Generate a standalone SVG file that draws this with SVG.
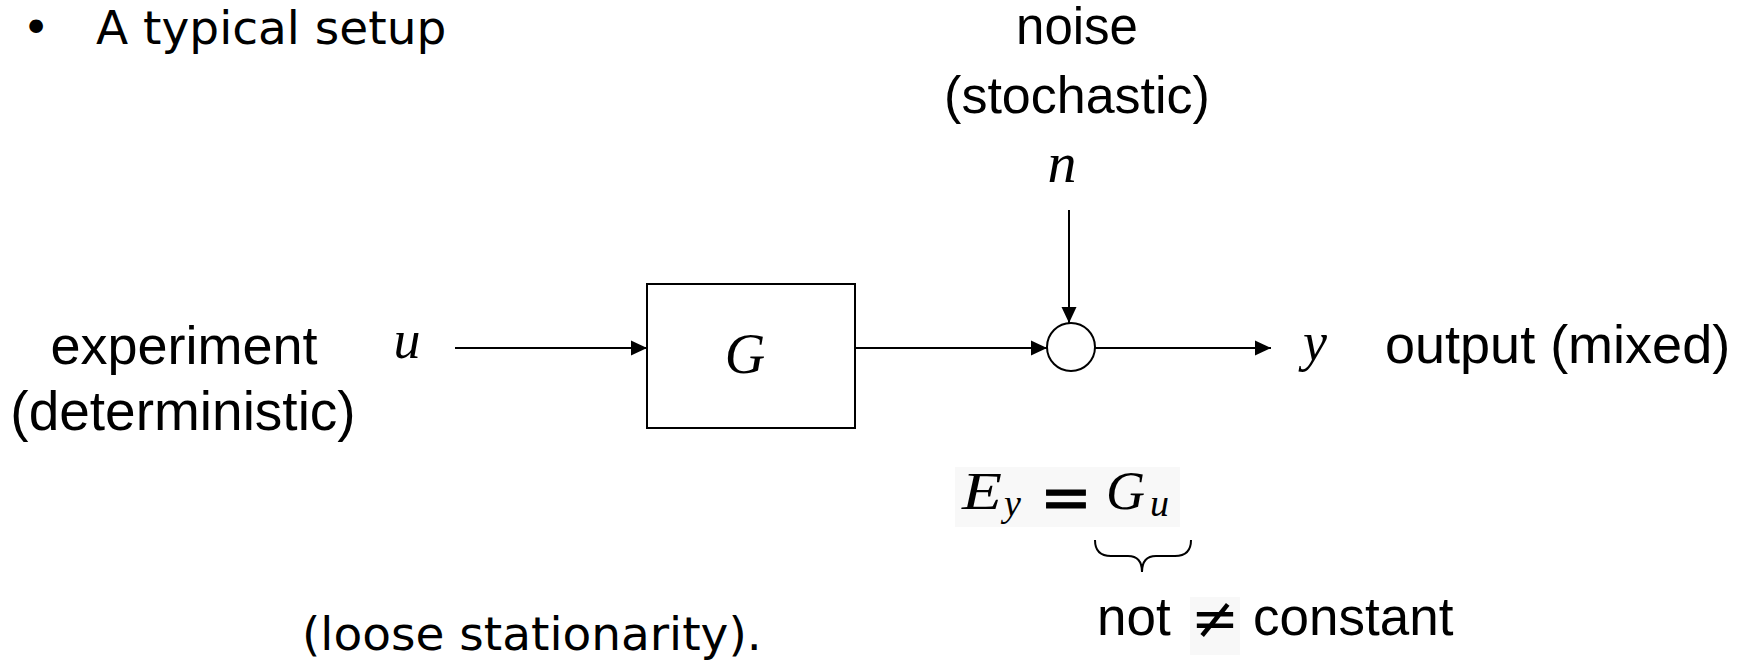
<svg xmlns="http://www.w3.org/2000/svg" width="1763" height="660" viewBox="0 0 1763 660">
<style>
.sans{font-family:"Liberation Sans",Arial,sans-serif;fill:#000}
.luc{font-family:"DejaVu Sans","Liberation Sans",sans-serif;fill:#000}
.math{font-family:"Liberation Serif","Times New Roman",serif;font-style:italic;fill:#000}
.ln{stroke:#000;stroke-width:2;fill:none}
</style>
<defs>
<marker id="ah" markerUnits="userSpaceOnUse" markerWidth="17" markerHeight="16" viewBox="0 0 17 16" refX="16" refY="8" orient="auto">
<path d="M0,0.5 L16,8 L0,15.5 Z" fill="#000"/>
</marker>
</defs>
<rect width="1763" height="660" fill="#fff"/>
<g id="title">
<text class="luc" x="36" y="44" font-size="47" text-anchor="middle">•</text>
<text class="luc" x="96" y="44" font-size="47">A typical setup</text>
</g>
<g id="noise-label">
<text class="sans" x="1077" y="44" font-size="51" text-anchor="middle">noise</text>
<text class="sans" x="1077" y="113" font-size="52" text-anchor="middle">(stochastic)</text>
<text class="math" x="1062" y="182" font-size="58" text-anchor="middle">n</text>
</g>
<g id="input-label">
<text class="sans" x="184" y="364" font-size="54" text-anchor="middle">experiment</text>
<text class="sans" x="183" y="430" font-size="55" text-anchor="middle">(deterministic)</text>
<text class="math" x="407" y="358" font-size="54" text-anchor="middle">u</text>
</g>
<g id="G-block">
<rect class="ln" x="647" y="284" width="208" height="144"/>
<text class="math" x="745" y="373" font-size="56" text-anchor="middle">G</text>
</g>
<g id="sum-node">
<circle class="ln" cx="1071" cy="347" r="24" fill="#fff"/>
</g>
<g id="output-label">
<text class="math" x="1315" y="360" font-size="54" text-anchor="middle">y</text>
<text class="sans" x="1385" y="363" font-size="54">output (mixed)</text>
</g>
<g id="connectors">
<line class="ln" x1="455" y1="348" x2="647" y2="348" marker-end="url(#ah)"/>
<line class="ln" x1="855" y1="348" x2="1047" y2="348" marker-end="url(#ah)"/>
<line class="ln" x1="1069" y1="210" x2="1069" y2="323" marker-end="url(#ah)"/>
<line class="ln" x1="1095" y1="348" x2="1271" y2="348" marker-end="url(#ah)"/>
</g>
<g id="equation">
<rect x="955" y="467" width="225" height="60" fill="#f8f8f8"/>
<text class="math" x="962" y="509" font-size="52" textLength="40" lengthAdjust="spacingAndGlyphs">E</text>
<text class="math" x="1004" y="516" font-size="38">y</text>
<text x="1066" y="519" font-size="62" text-anchor="middle" style="font-family:'DejaVu Sans',sans-serif;stroke:#000;stroke-width:1">=</text>
<text class="math" x="1106" y="509" font-size="54">G</text>
<text class="math" x="1150" y="516" font-size="38">u</text>
<path class="ln" d="M1095,540 Q1095,556 1111,556 L1128,556 Q1142,556 1142,572 Q1142,556 1156,556 L1175,556 Q1191,556 1191,540"/>
</g>
<g id="not-constant">
<rect x="1190" y="597" width="50" height="58" fill="#f8f8f8"/>
<text class="sans" x="1097" y="635" font-size="53">not</text>
<text x="1215" y="638" font-size="58" text-anchor="middle" style="font-family:'DejaVu Serif',serif">≠</text>
<text class="sans" x="1253" y="635" font-size="53">constant</text>
</g>
<g id="footnote">
<text class="luc" x="302" y="650" font-size="47">(loose stationarity).</text>
</g>
</svg>
